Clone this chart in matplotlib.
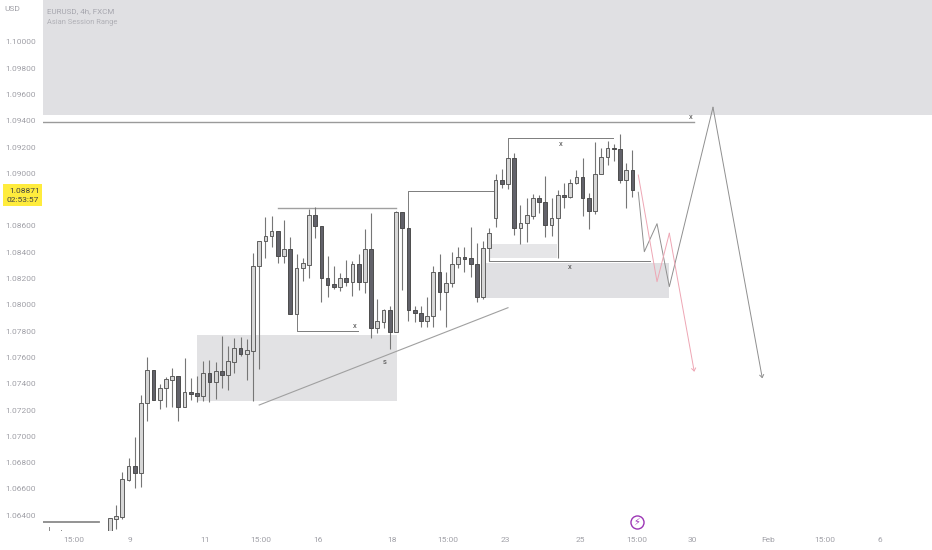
import matplotlib
matplotlib.use("Agg")
import matplotlib.pyplot as plt
from matplotlib.patches import Rectangle

plt.rcParams['font.family'] = ['Roboto', 'DejaVu Sans']

opens = [1.06280,1.06373,1.06389,1.06668,1.06772,1.06719,1.07251,1.07502,1.07276,1.07365,
         1.07430,1.07461,1.07221,1.07335,1.07327,1.07307,1.07479,1.07415,1.07497,1.07464,
         1.07567,1.07669,1.07624,1.07651,1.08295,1.08485,1.08521,1.08559,1.08371,1.08422,
         1.07932,1.08278,1.08300,1.08681,1.08602,1.08206,1.08156,1.08138,1.08206,1.08171,
         1.08310,1.08176,1.08422,1.07821,1.07872,1.07958,1.07793,1.08704,1.08582,1.07961,
         1.07940,1.07877,1.07915,1.08247,1.08095,1.08166,1.08308,1.08361,1.08354,1.08310,
         1.08062,1.08432,1.08662,1.08949,1.08916,1.09119,1.08586,1.08622,1.08678,1.08810,
         1.08784,1.08607,1.08658,1.08833,1.08822,1.08924,1.08974,1.08815,1.08716,1.08993,
         1.09124,1.09190,1.09185,1.08951,1.09025]
closes = [1.06376,1.06394,1.06673,1.06772,1.06719,1.07251,1.07502,1.07276,1.07365,1.07434,
          1.07461,1.07221,1.07335,1.07324,1.07307,1.07479,1.07415,1.07499,1.07464,1.07570,
          1.07669,1.07624,1.07654,1.08295,1.08485,1.08521,1.08559,1.08371,1.08422,1.07932,
          1.08278,1.08316,1.08681,1.08602,1.08206,1.08153,1.08133,1.08206,1.08171,1.08310,
          1.08173,1.08422,1.07821,1.07875,1.07958,1.07793,1.08704,1.08582,1.07961,1.07935,
          1.07877,1.07913,1.08247,1.08095,1.08166,1.08310,1.08361,1.08351,1.08310,1.08062,
          1.08432,1.08548,1.08949,1.08916,1.09119,1.08586,1.08624,1.08681,1.08810,1.08782,
          1.08607,1.08658,1.08837,1.08822,1.08929,1.08974,1.08815,1.08716,1.08993,1.09124,
          1.09190,1.09183,1.08951,1.09025,1.08871]
highs = [1.06376,1.06478,1.06729,1.06835,1.06997,1.07316,1.07605,1.07502,1.07398,1.07449,
         1.07517,1.07461,1.07593,1.07441,1.07459,1.07573,1.07580,1.07563,1.07765,1.07687,
         1.07750,1.07753,1.07738,1.08392,1.08485,1.08670,1.08675,1.08559,1.08645,1.08518,
         1.08386,1.08358,1.08726,1.08746,1.08602,1.08371,1.08293,1.08240,1.08339,1.08333,
         1.08384,1.08579,1.08696,1.08042,1.07966,1.07991,1.08716,1.08704,1.08582,1.07991,
         1.07991,1.08062,1.08295,1.08384,1.08250,1.08399,1.08437,1.08437,1.08589,1.08472,
         1.08485,1.08582,1.08995,1.09031,1.09119,1.09157,1.08759,1.08810,1.08843,1.08835,
         1.08980,1.08810,1.08873,1.08924,1.08955,1.09025,1.09116,1.08853,1.09238,1.09190,
         1.09248,1.09223,1.09297,1.09081,1.09177]
lows = [1.06280,1.06295,1.06369,1.06662,1.06607,1.06617,1.07119,1.07276,1.07210,1.07221,
        1.07225,1.07119,1.07221,1.07276,1.07259,1.07271,1.07259,1.07284,1.07365,1.07352,
        1.07484,1.07613,1.07428,1.07268,1.07514,1.08354,1.08442,1.08320,1.08320,1.07932,
        1.07932,1.08183,1.08206,1.08510,1.08019,1.08062,1.08118,1.08107,1.08143,1.08067,
        1.08113,1.08092,1.07750,1.07788,1.07824,1.07664,1.07793,1.08113,1.07877,1.07872,
        1.07829,1.07829,1.07829,1.07961,1.07834,1.08133,1.08278,1.08252,1.08209,1.08024,
        1.08046,1.08333,1.08594,1.08891,1.08878,1.08533,1.08462,1.08478,1.08650,1.08696,
        1.08518,1.08526,1.08354,1.08739,1.08810,1.08919,1.08678,1.08574,1.08688,1.08993,
        1.09063,1.09096,1.08924,1.08736,1.08818]
bars = list(range(len(opens)))

price_ticks = [1.10000,1.09800,1.09600,1.09400,1.09200,1.09000,1.08600,1.08400,1.08200,
               1.08000,1.07800,1.07600,1.07400,1.07200,1.07000,1.06800,1.06600,1.06400]
time_tick_pos = [-5.84,3.15,15.26,24.3,33.4,45.4,54.4,63.5,75.6,84.7,93.7,105.9,114.9,123.8]
time_tick_lab = ['15:00','9','11','15:00','16','18','15:00','23','25','15:00','30','Feb','15:00','6']

grey_path_x = [84.95,85.92,87.96,89.94,96.96,104.89]
grey_path_y = [1.08856,1.08404,1.08617,1.08138,1.09502,1.07441]
red_path_x = [84.95,87.96,89.94,93.95]
red_path_y = [1.08987,1.08176,1.08544,1.07491]

zones_x0 = [-10.76,14.05,61.1,60.5]
zones_x1 = [132.2,46.1,71.9,89.9]
zones_y0 = [1.09447,1.07268,1.08354,1.08050]
zones_y1 = [1.10400,1.07770,1.08462,1.08316]
zones_col = ['#e0e0e3','#e2e2e4','#e6e6e8','#e0e0e3']

fig = plt.figure(figsize=(9.32,5.5),dpi=100,facecolor='white')
ax = fig.add_axes([43/932,19/550,889/932,531/550])
ax.set_xlim(-10.756,132.17)
ax.set_ylim(1.06280,1.10318)
for s in ax.spines.values():
    s.set_visible(False)

for x0,x1,y0,y1,c in zip(zones_x0,zones_x1,zones_y0,zones_y1,zones_col):
    ax.add_patch(Rectangle((x0,y0),x1-x0,y1-y0,fc=c,ec='none',zorder=1))

LC='#7c7c7c'
ax.plot([-10.76,93.95],[1.09388,1.09388],color='#9a9a9a',lw=1.0,zorder=2)
ax.plot([-10.76,-1.78],[1.06351,1.06351],color='#8a8a8a',lw=1.3,zorder=2)
ax.plot([-9.87,-9.87],[1.0628,1.0631],color='#8a8a8a',lw=0.7,zorder=2)
ax.plot([-7.86,-7.86],[1.0628,1.06288],color='#8a8a8a',lw=0.7,zorder=2)
ax.plot([27.07,45.95],[1.08739,1.08739],color='#a0a0a0',lw=1.0,zorder=2)
ax.plot([30.08,30.08,39.94],[1.07932,1.07801,1.07801],color=LC,lw=0.7,zorder=2)
ax.plot([48,48,61.75],[1.08582,1.08868,1.08868],color=LC,lw=0.7,zorder=2)
ax.plot([64,64,80.9],[1.09119,1.09266,1.09266],color=LC,lw=0.7,zorder=2)
ax.plot([61,61,86.8],[1.08432,1.08333,1.08333],color=LC,lw=0.7,zorder=2)
ax.plot([24.0,64.0],[1.07238,1.07978],color='#a0a0a0',lw=0.8,zorder=2)

up=[i for i in bars if closes[i]>=opens[i]]
dn=[i for i in bars if closes[i]<opens[i]]
ax.vlines(bars,lows,highs,color='#767676',lw=0.8,zorder=3)
W=0.6
ax.bar(up,[closes[i]-opens[i] for i in up],bottom=[opens[i] for i in up],width=W,
       fc='#d6d6d6',ec='#5e5e5e',lw=0.7,zorder=4)
ax.bar(dn,[closes[i]-opens[i] for i in dn],bottom=[opens[i] for i in dn],width=W,
       fc='#62626a',ec='#4c4c4c',lw=0.7,zorder=4)

ax.plot(grey_path_x[:-1],grey_path_y[:-1],color='#8f8f8f',lw=0.7,zorder=5)
ax.annotate('',xy=(grey_path_x[-1],grey_path_y[-1]),xytext=(grey_path_x[-2],grey_path_y[-2]),
            arrowprops=dict(arrowstyle='->,head_length=0.2,head_width=0.15',color='#8f8f8f',lw=0.7,
                            shrinkA=0,shrinkB=0),zorder=5)
ax.plot(red_path_x[:-1],red_path_y[:-1],color='#eea6b4',lw=0.7,zorder=5)
ax.annotate('',xy=(red_path_x[-1],red_path_y[-1]),xytext=(red_path_x[-2],red_path_y[-2]),
            arrowprops=dict(arrowstyle='->,head_length=0.2,head_width=0.15',color='#eea6b4',lw=0.7,
                            shrinkA=0,shrinkB=0),zorder=5)

for xx,yy,t in [(39.4,1.07841,'x'),(44.2,1.07563,'s'),(72.5,1.09221,'x'),(74,1.08290,'x'),(93.4,1.09431,'x')]:
    ax.text(xx,yy,t,fontsize=5.5,color='#444444',ha='center',va='center',zorder=6)

ax.plot([84.74],[1.06348],marker='o',ms=9.4,mfc='white',mec='#9c35b5',mew=1.0,ls='none',zorder=6,clip_on=False)
ax.text(84.74,1.06348,'\u26a1',fontsize=7,color='#9c35b5',ha='center',va='center',zorder=7,
        family=['DejaVu Sans'])

ax.set_yticks(price_ticks)
ax.set_yticklabels(['%.5f'%p for p in price_ticks])
ax.set_xticks(time_tick_pos)
ax.set_xticklabels(time_tick_lab)
ax.tick_params(axis='y',length=0,pad=5,labelsize=6,labelcolor='#a0a0a7')
ax.tick_params(axis='x',length=0,pad=4.5,labelsize=6,labelcolor='#a0a0a7')

W_,H_=932,550
fig.add_artist(Rectangle((3.3/W_,1-205.7/H_),38.7/W_,21.4/H_,transform=fig.transFigure,fc='#ffec3d',ec='none'))
fig.text(25/W_,1-190.5/H_,'1.08871',fontsize=6,color='#444444',ha='center',va='center')
fig.text(22.5/W_,1-200/H_,'02:53:57',fontsize=6,color='#444444',ha='center',va='center')
fig.text(12.7/W_,1-9/H_,'USD',fontsize=6,color='#a0a0a7',ha='center',va='center')
fig.text(47/W_,1-11/H_,'EURUSD, 4h, FXCM',fontsize=5.8,color='#a6a6ae',ha='left',va='center',zorder=9)
fig.text(47/W_,1-23/H_,'Asian Session Range',fontsize=5.4,color='#b0b0b6',ha='left',va='center',zorder=9)

fig.savefig('out.png',dpi=100)
